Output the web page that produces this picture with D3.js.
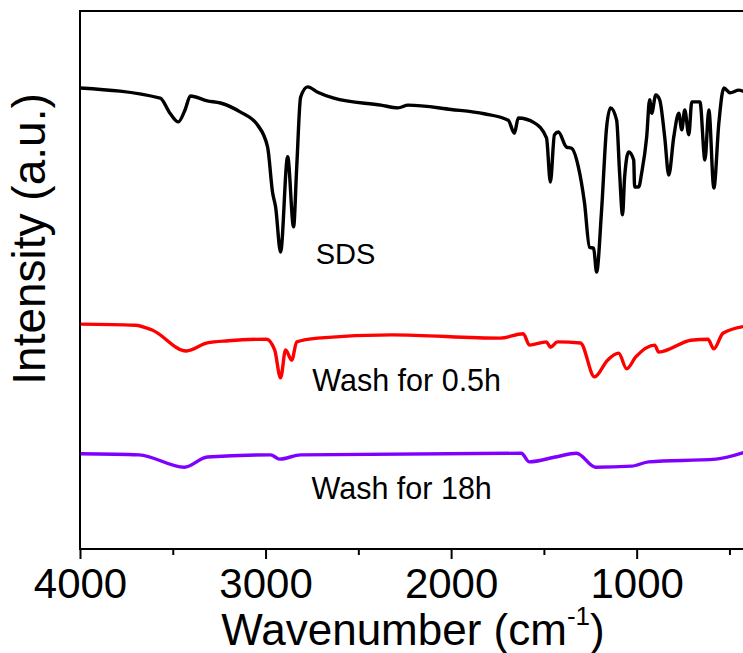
<!DOCTYPE html>
<html lang="en">
<head>
    <meta charset="UTF-8">
    <script src="https://d3js.org/d3.v7.min.js"></script>
    <title>FTIR</title>
    <style>
      body { margin: 0; background: #fff; }
      text { font-family: Arial, "Liberation Sans", sans-serif; fill: #000; }
    </style>
</head>
<body>
    <div id="container"></div>
</body>
<script>

    // wavenumber (cm-1) / intensity (a.u.)
    var sds_wn = [4000,3568,3515,3470,3434,3405,3314,3243,3135,3043,2989,2962,2946,2919,2881,2849,2832,2811,2773,2719,2632,2378,
                  2286,2232,2000,1822,1692,1659,1638,1551,1486,1465,1443,1422,1378,1351,1314,1281,1254,1232,1216,1189,
                  1162,1141,1108,1092,1076,1065,1043,1016,1011,989,973,946,930,919,897,876,849,827,800,773,
                  757,741,719,703,659,632,611,584,557,530,497,449,416];
    var sds_val = [85.7,83.8,81.0,79.4,81.6,84.2,83.3,82.9,81.2,78.8,74.7,66.2,63.6,55.2,72.9,59.9,71.0,84.0,85.9,84.9,83.8,82.5,
                   82.0,82.5,81.7,80.9,79.7,77.3,80.1,79.2,76.4,68.2,77.0,77.5,74.7,74.5,71.0,64.3,56.1,55.9,51.5,63.0,
                   78.4,82.0,79.7,69.9,62.1,69.1,73.8,72.3,67.3,67.3,69.9,76.6,83.5,81.0,84.4,83.5,76.6,69.5,76.6,81.0,
                   77.9,81.6,77.0,83.1,83.1,72.3,81.6,67.1,79.2,85.7,84.8,85.3,84.9];

    var wash05_wn = [4000,3703,3611,3427,3314,3200,2995,2951,2919,2892,2859,2832,2719,2319,1735,1611,1578,1486,1465,1427,
                     1303,1227,1157,1097,1054,1005,903,881,708,616,584,535,416];
    var wash05_val = [41.8,41.6,40.7,36.8,38.3,38.7,39.0,37.0,31.8,37.0,35.1,38.5,39.2,39.8,39.2,40.0,37.9,38.5,37.5,38.5,
                      38.3,32.0,35.1,36.4,33.5,35.7,37.9,36.6,38.8,39.0,37.2,40.1,41.4];

    var wash18_wn = [4000,3681,3438,3314,2973,2924,2811,1622,1578,1438,1324,1222,1027,935,573,416];
    var wash18_val = [17.7,17.5,15.2,17.1,17.5,16.7,17.5,17.8,16.2,17.1,17.8,15.2,15.4,16.2,16.7,18.0];

    var series_names = ["SDS", "Wash for 0.5h", "Wash for 18h"];
    var series_colors = ["#000000", "#ff0000", "#8000ff"];
    var major_ticks = [4000, 3000, 2000, 1000];
    var minor_ticks = [3500, 2500, 1500, 500];

    var svg_width = 743, svg_height = 653,
        plot = {left: 80, right: 748, top: 11, bottom: 549};

    var x_scale = d3.scaleLinear().domain([4000, 400]).range([plot.left, plot.right]);
    var y_scale = d3.scaleLinear().domain([0, 100]).range([plot.bottom, plot.top]);

    var svg = d3.select("#container").append("svg")
        .attr("width", svg_width).attr("height", svg_height);

    var series = [
        {name: series_names[0], color: series_colors[0], pts: d3.zip(sds_wn, sds_val), lx: 2730, ly: 53, fs: 29},
        {name: series_names[1], color: series_colors[1], pts: d3.zip(wash05_wn, wash05_val), lx: 2748, ly: 29.3, fs: 30.5},
        {name: series_names[2], color: series_colors[2], pts: d3.zip(wash18_wn, wash18_val), lx: 2752, ly: 9.3, fs: 30.5}
    ];

    var line = d3.line()
        .x(function(d){ return x_scale(d[0]); })
        .y(function(d){ return y_scale(d[1]); })
        .curve(d3.curveMonotoneX);

    svg.selectAll(".trace")
        .data(series)
        .enter()
        .append("path")
        .attr("class", "trace")
        .attr("d", function(d){ return line(d.pts); })
        .attr("fill", "none")
        .attr("stroke", function(d){ return d.color; })
        .attr("stroke-width", 3.4)
        .attr("stroke-linejoin", "round");

    // labels next to each trace
    svg.selectAll(".lbl")
        .data(series)
        .enter()
        .append("text")
        .attr("class", "lbl")
        .attr("x", function(d){ return x_scale(d.lx); })
        .attr("y", function(d){ return y_scale(d.ly); })
        .style("font-size", function(d){ return d.fs + "px"; })
        .text(function(d){ return d.name; });

    // frame
    svg.append("rect")
        .attr("x", plot.left).attr("y", plot.top)
        .attr("width", plot.right - plot.left).attr("height", plot.bottom - plot.top)
        .attr("fill", "none").attr("stroke", "#000").attr("stroke-width", 2);

    // x axis, major + minor ticks
    var x_axis = d3.axisBottom(x_scale).tickValues(major_ticks).tickSize(10).tickPadding(9)
        .tickFormat(d3.format("d"));
    var gx = svg.append("g").attr("transform", `translate(0,${plot.bottom})`).call(x_axis);
    gx.select(".domain").remove();
    gx.selectAll(".tick line").attr("stroke-width", 2);
    gx.selectAll(".tick text").style("font-size", "42px");
    gx.attr("font-family", null);

    var gm = svg.append("g").attr("transform", `translate(0,${plot.bottom})`)
        .call(d3.axisBottom(x_scale).tickValues(minor_ticks).tickSize(6).tickFormat(""));
    gm.select(".domain").remove();
    gm.selectAll(".tick line").attr("stroke-width", 2);

    // axis titles
    var xt = svg.append("text")
        .attr("x", 413).attr("y", 645)
        .attr("text-anchor", "middle")
        .style("font-size", "44px");
    xt.append("tspan").text("Wavenumber (cm");
    xt.append("tspan").attr("dy", -20).style("font-size", "26px").text("-1");
    xt.append("tspan").attr("dy", 20).text(")");

    svg.append("text")
        .attr("transform", "translate(45,239) rotate(-90)")
        .attr("text-anchor", "middle")
        .style("font-size", "46px")
        .text("Intensity (a.u.)");

</script>
</html>
